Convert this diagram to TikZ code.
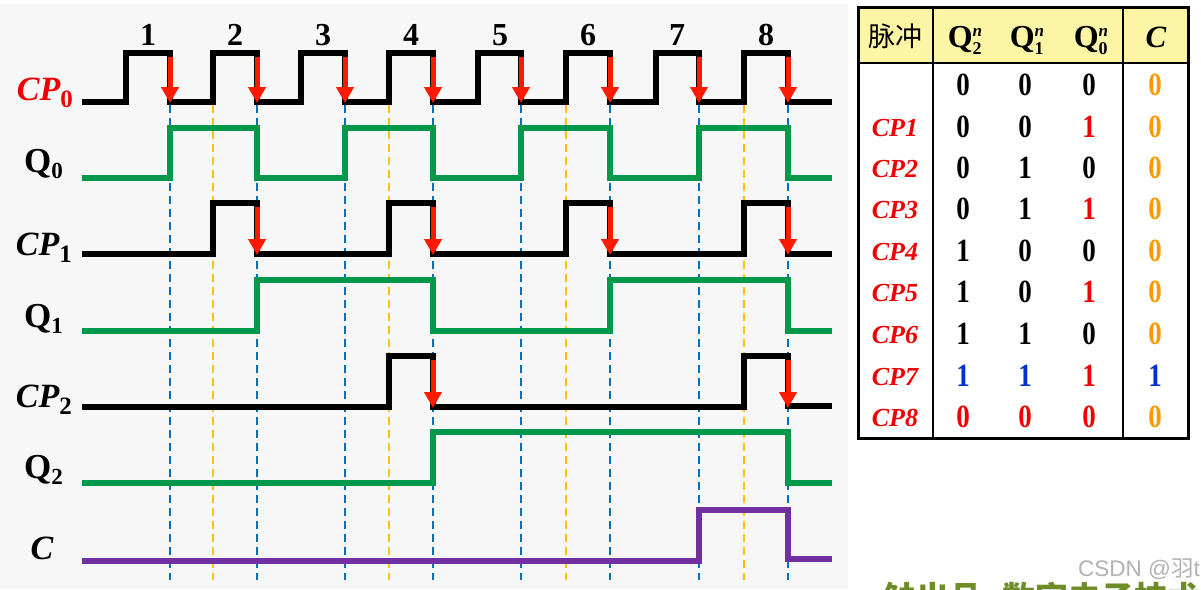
\documentclass[tikz,border=0pt]{standalone}
\usepackage{fontspec}
\setmainfont{Liberation Serif}
\newfontfamily\cjk{Noto Sans CJK SC}
\newfontfamily\wmfont{Liberation Sans}
\usetikzlibrary{arrows.meta}
\definecolor{bggray}{HTML}{F7F7F7}
\definecolor{wgreen}{HTML}{00994C}
\definecolor{wpurple}{HTML}{7030A0}
\definecolor{dblue}{HTML}{0070C0}
\definecolor{dyellow}{HTML}{FFC000}
\definecolor{ared}{HTML}{FF1A00}
\definecolor{tred}{HTML}{F00000}
\definecolor{torange}{HTML}{FF9900}
\definecolor{tblue}{HTML}{0033CC}
\definecolor{hyellow}{HTML}{FCF5A5}
\definecolor{olive}{HTML}{6E8C28}
\newcommand\sz[1]{\fontsize{#1}{#1}\selectfont}
\newcommand\tdig[1]{\scalebox{1}[1.2]{\sz{27}\bfseries #1}}
\newcommand\cplab[1]{{\sz{34}\bfseries\itshape CP}\raisebox{-7pt}{\sz{25}\bfseries #1}}
\newcommand\qlab[1]{{\sz{35}\bfseries Q}\raisebox{-6pt}{\sz{23}\bfseries #1}}
\newcommand\qhead[1]{{\sz{32}\bfseries Q}\raisebox{-7pt}{\shortstack[l]{\sz{17}\bfseries\itshape n\\[3pt]\sz{18}\bfseries #1}}}
\begin{document}
\begin{tikzpicture}[x=1pt,y=-1pt,
  wave/.style={line width=5.2pt,line join=miter},
  blackwave/.style={wave,draw=black},
  greenwave/.style={wave,draw=wgreen},
  purplewave/.style={wave,draw=wpurple},
  bdash/.style={draw=dblue,line width=2.3pt,dash pattern=on 8pt off 5pt},
  ydash/.style={draw=dyellow,line width=2.6pt,dash pattern=on 8pt off 5pt},
  redarrow/.style={draw=ared,line width=5pt,-{Triangle[width=17pt,length=16pt,fill=ared]}},
  lab/.style={inner sep=0pt,anchor=base east},
  num/.style={inner sep=0pt,anchor=base,font=\sz{32}\bfseries},
  cell/.style={inner sep=0pt,anchor=center},
  rowlab/.style={inner sep=0pt,anchor=base,text=tred,font=\sz{26}\bfseries\itshape},
  tline/.style={draw=black,line width=1.5pt}]
\useasboundingbox (0,0) rectangle (1201,589);
\fill[white] (0,0) rectangle (1201,589);
\fill[bggray] (0,4) rectangle (848,589);

% ---- dashed guide lines ----
\foreach \x in {170,257,345,433,521,610,699,788}
  \draw[bdash] (\x,105) -- (\x,580);
\foreach \x in {213,389,566,744}
  \draw[ydash] (\x,105) -- (\x,580);

% ---- waveforms ----
\draw[blackwave] (82,102) -- (126,102) -- (126,53) -- (170,53) -- (170,102) -- (213,102) -- (213,53) -- (257,53) -- (257,102) -- (301,102) -- (301,53) -- (345,53) -- (345,102) -- (389,102) -- (389,53) -- (433,53) -- (433,102) -- (478,102) -- (478,53) -- (521,53) -- (521,102) -- (566,102) -- (566,53) -- (610,53) -- (610,102) -- (656,102) -- (656,53) -- (699,53) -- (699,102) -- (744,102) -- (744,53) -- (788,53) -- (788,102) -- (832,102);
\draw[greenwave] (82,178) -- (170,178) -- (170,128) -- (257,128) -- (257,178) -- (345,178) -- (345,128) -- (433,128) -- (433,178) -- (521,178) -- (521,128) -- (610,128) -- (610,178) -- (699,178) -- (699,128) -- (788,128) -- (788,178) -- (832,178);
\draw[blackwave] (82,254) -- (213,254) -- (213,203) -- (257,203) -- (257,254) -- (389,254) -- (389,203) -- (433,203) -- (433,254) -- (566,254) -- (566,203) -- (610,203) -- (610,254) -- (744,254) -- (744,203) -- (788,203) -- (788,254) -- (832,254);
\draw[greenwave] (82,331) -- (257,331) -- (257,280) -- (433,280) -- (433,331) -- (610,331) -- (610,280) -- (788,280) -- (788,331) -- (832,331);
\draw[blackwave] (82,407) -- (389,407) -- (389,356) -- (433,356) -- (433,407) -- (744,407) -- (744,356) -- (788,356) -- (788,406) -- (832,406);
\draw[greenwave] (82,483) -- (433,483) -- (433,432) -- (788,432) -- (788,483) -- (832,483);
\draw[purplewave] (82,561) -- (699,561) -- (699,510) -- (788,510) -- (788,559) -- (832,559);

% ---- falling-edge arrows ----
\foreach \x in {170,257,345,433,521,610,699,788}
  \draw[redarrow] (\x,57) -- (\x,103);
\foreach \x in {257,433,610,788}
  \draw[redarrow] (\x,207) -- (\x,255);
\foreach \x in {433,788}
  \draw[redarrow] (\x,360) -- (\x,408);

% ---- pulse numbers ----
\foreach \c/\n in {148/1,235/2,323/3,411/4,500/5,588/6,677/7,766/8}
  \node[num] (n\n) at (\c,45) {\n};

% ---- signal labels ----
\node[lab,text=tred] (lcp0) at (73,100) {\cplab{0}};
\node[lab] (lq0) at (63,172) {\qlab{0}};
\node[lab] (lcp1) at (72,255) {\cplab{1}};
\node[lab] (lq1) at (63,327) {\qlab{1}};
\node[lab] (lcp2) at (72,407) {\cplab{2}};
\node[lab] (lq2) at (63,478) {\qlab{2}};
\node[inner sep=0pt,anchor=base,font=\sz{34}\bfseries\itshape] (lc) at (42,559) {C};

% ---- table ----
\fill[hyellow] (858,7) rectangle (1188,63);
\draw[tline] (858,63) -- (1188,63);
\draw[tline] (933,7) -- (933,438);
\draw[tline] (1123,7) -- (1123,438);
\draw[draw=black,line width=3pt] (858,7) rectangle (1188,438);

\node[cell,font=\cjk\sz{27}] (h0) at (895,36) {脉冲};
\node[inner sep=0pt,anchor=base] (h1) at (965,47) {\qhead{2}};
\node[inner sep=0pt,anchor=base] (h2) at (1027,47) {\qhead{1}};
\node[inner sep=0pt,anchor=base] (h3) at (1091,47) {\qhead{0}};
\node[inner sep=0pt,anchor=base,font=\sz{31}\bfseries\itshape] (h4) at (1156,47) {C};

% rows: y / label / Q2 / Q1 / Q0 / C  (colours in cells)
\foreach \y/\l/\a/\ca/\b/\cb/\c/\cc/\d/\cd [count=\i] in {
  85//0/black/0/black/0/black/0/torange,
  127/CP1/0/black/0/black/1/tred/0/torange,
  168/CP2/0/black/1/black/0/black/0/torange,
  209/CP3/0/black/1/black/1/tred/0/torange,
  251/CP4/1/black/0/black/0/black/0/torange,
  292/CP5/1/black/0/black/1/tred/0/torange,
  334/CP6/1/black/1/black/0/black/0/torange,
  376/CP7/1/tblue/1/tblue/1/tred/1/tblue,
  417/CP8/0/tred/0/tred/0/tred/0/torange}{
  \node[rowlab] (r\i) at (895,\y+9) {\l};
  \node[cell,text=\ca] (a\i) at (963,\y) {\tdig{\a}};
  \node[cell,text=\cb] (b\i) at (1025,\y) {\tdig{\b}};
  \node[cell,text=\cc] (c\i) at (1089,\y) {\tdig{\c}};
  \node[cell,text=\cd] (d\i) at (1155,\y) {\tdig{\d}};
}

% ---- bottom texts ----
\begin{scope}
\clip (848,0) rectangle (1201,589);
\node[inner sep=0pt,anchor=base west,text=olive,font=\cjk\sz{33}\bfseries] (bt) at (883,610) {触出品\hspace{0.6em}数字电子技术};
\node[inner sep=0pt,anchor=west,text=black!30,font=\wmfont\sz{22.5}] (wm) at (1078,569) {CSDN @{\cjk 羽}t};
\end{scope}
\end{tikzpicture}
\end{document}
